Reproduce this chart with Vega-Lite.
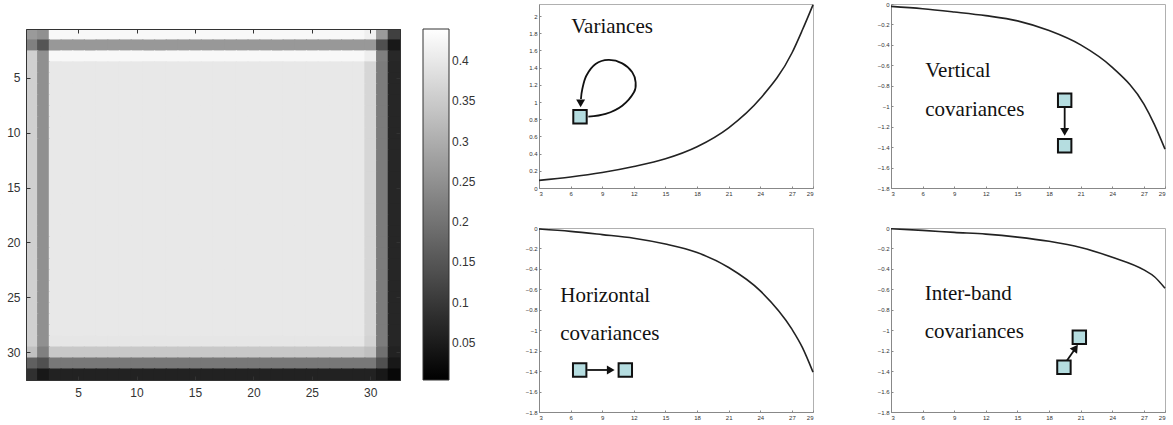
{
  "$schema": "https://vega.github.io/schema/vega-lite/v6.json",
  "padding": {"left": 6, "top": 0, "right": 0, "bottom": 0},
  "background": "white",
  "config": {
    "font": "Liberation Sans",
    "view": {"stroke": "#b0b0b0"},
    "axis": {"grid": false, "labelFont": "Liberation Sans"},
    "legend": {"labelFont": "Liberation Sans"}
  },
  "datasets": {
    "grid": [
      {"r":1,"c":[1,2,3,4,5,6,7,8,9,10,11,12,13,14,15,16,17,18,19,20,21,22,23,24,25,26,27,28,29,30,31,32],"v":[0.267,0.25,0.428,0.428,0.428,0.428,0.428,0.428,0.428,0.428,0.428,0.428,0.428,0.428,0.428,0.428,0.428,0.428,0.428,0.428,0.428,0.428,0.428,0.428,0.428,0.428,0.428,0.428,0.428,0.414,0.267,0.113]},
      {"r":2,"c":[1,2,3,4,5,6,7,8,9,10,11,12,13,14,15,16,17,18,19,20,21,22,23,24,25,26,27,28,29,30,31,32],"v":[0.223,0.149,0.264,0.264,0.264,0.264,0.264,0.264,0.264,0.264,0.264,0.264,0.264,0.264,0.264,0.264,0.264,0.264,0.264,0.264,0.264,0.264,0.264,0.264,0.264,0.264,0.264,0.264,0.264,0.264,0.141,0.045]},
      {"r":3,"c":[1,2,3,4,5,6,7,8,9,10,11,12,13,14,15,16,17,18,19,20,21,22,23,24,25,26,27,28,29,30,31,32],"v":[0.36,0.25,0.428,0.428,0.428,0.428,0.428,0.428,0.428,0.428,0.428,0.428,0.428,0.428,0.428,0.428,0.428,0.428,0.428,0.428,0.428,0.428,0.428,0.428,0.428,0.428,0.428,0.428,0.428,0.411,0.223,0.072]},
      {"r":4,"c":[1,2,3,4,5,6,7,8,9,10,11,12,13,14,15,16,17,18,19,20,21,22,23,24,25,26,27,28,29,30,31,32],"v":[0.36,0.25,0.401,0.401,0.401,0.401,0.401,0.401,0.401,0.401,0.401,0.401,0.401,0.401,0.401,0.401,0.401,0.401,0.401,0.401,0.401,0.401,0.401,0.401,0.401,0.401,0.401,0.401,0.401,0.37,0.216,0.069]},
      {"r":5,"c":[1,2,3,4,5,6,7,8,9,10,11,12,13,14,15,16,17,18,19,20,21,22,23,24,25,26,27,28,29,30,31,32],"v":[0.36,0.25,0.401,0.401,0.401,0.401,0.401,0.401,0.401,0.401,0.401,0.401,0.401,0.401,0.401,0.401,0.401,0.401,0.401,0.401,0.401,0.401,0.401,0.401,0.401,0.401,0.401,0.401,0.401,0.37,0.216,0.069]},
      {"r":6,"c":[1,2,3,4,5,6,7,8,9,10,11,12,13,14,15,16,17,18,19,20,21,22,23,24,25,26,27,28,29,30,31,32],"v":[0.36,0.25,0.401,0.401,0.401,0.401,0.401,0.401,0.401,0.401,0.401,0.401,0.401,0.401,0.401,0.401,0.401,0.401,0.401,0.401,0.401,0.401,0.401,0.401,0.401,0.401,0.401,0.401,0.401,0.37,0.216,0.069]},
      {"r":7,"c":[1,2,3,4,5,6,7,8,9,10,11,12,13,14,15,16,17,18,19,20,21,22,23,24,25,26,27,28,29,30,31,32],"v":[0.36,0.25,0.401,0.401,0.401,0.401,0.401,0.401,0.401,0.401,0.401,0.401,0.401,0.401,0.401,0.401,0.401,0.401,0.401,0.401,0.401,0.401,0.401,0.401,0.401,0.401,0.401,0.401,0.401,0.37,0.216,0.069]},
      {"r":8,"c":[1,2,3,4,5,6,7,8,9,10,11,12,13,14,15,16,17,18,19,20,21,22,23,24,25,26,27,28,29,30,31,32],"v":[0.36,0.25,0.401,0.401,0.401,0.401,0.401,0.401,0.401,0.401,0.401,0.401,0.401,0.401,0.401,0.401,0.401,0.401,0.401,0.401,0.401,0.401,0.401,0.401,0.401,0.401,0.401,0.401,0.401,0.37,0.216,0.069]},
      {"r":9,"c":[1,2,3,4,5,6,7,8,9,10,11,12,13,14,15,16,17,18,19,20,21,22,23,24,25,26,27,28,29,30,31,32],"v":[0.36,0.25,0.401,0.401,0.401,0.401,0.401,0.401,0.401,0.401,0.401,0.401,0.401,0.401,0.401,0.401,0.401,0.401,0.401,0.401,0.401,0.401,0.401,0.401,0.401,0.401,0.401,0.401,0.401,0.37,0.216,0.069]},
      {"r":10,"c":[1,2,3,4,5,6,7,8,9,10,11,12,13,14,15,16,17,18,19,20,21,22,23,24,25,26,27,28,29,30,31,32],"v":[0.36,0.25,0.401,0.401,0.401,0.401,0.401,0.401,0.401,0.401,0.401,0.401,0.401,0.401,0.401,0.401,0.401,0.401,0.401,0.401,0.401,0.401,0.401,0.401,0.401,0.401,0.401,0.401,0.401,0.37,0.216,0.069]},
      {"r":11,"c":[1,2,3,4,5,6,7,8,9,10,11,12,13,14,15,16,17,18,19,20,21,22,23,24,25,26,27,28,29,30,31,32],"v":[0.36,0.25,0.401,0.401,0.401,0.401,0.401,0.401,0.401,0.401,0.401,0.401,0.401,0.401,0.401,0.401,0.401,0.401,0.401,0.401,0.401,0.401,0.401,0.401,0.401,0.401,0.401,0.401,0.401,0.37,0.216,0.069]},
      {"r":12,"c":[1,2,3,4,5,6,7,8,9,10,11,12,13,14,15,16,17,18,19,20,21,22,23,24,25,26,27,28,29,30,31,32],"v":[0.36,0.25,0.401,0.401,0.401,0.401,0.401,0.401,0.401,0.401,0.401,0.401,0.401,0.401,0.401,0.401,0.401,0.401,0.401,0.401,0.401,0.401,0.401,0.401,0.401,0.401,0.401,0.401,0.401,0.37,0.216,0.069]},
      {"r":13,"c":[1,2,3,4,5,6,7,8,9,10,11,12,13,14,15,16,17,18,19,20,21,22,23,24,25,26,27,28,29,30,31,32],"v":[0.36,0.25,0.401,0.401,0.401,0.401,0.401,0.401,0.401,0.401,0.401,0.401,0.401,0.401,0.401,0.401,0.401,0.401,0.401,0.401,0.401,0.401,0.401,0.401,0.401,0.401,0.401,0.401,0.401,0.37,0.216,0.069]},
      {"r":14,"c":[1,2,3,4,5,6,7,8,9,10,11,12,13,14,15,16,17,18,19,20,21,22,23,24,25,26,27,28,29,30,31,32],"v":[0.36,0.25,0.401,0.401,0.401,0.401,0.401,0.401,0.401,0.401,0.401,0.401,0.401,0.401,0.401,0.401,0.401,0.401,0.401,0.401,0.401,0.401,0.401,0.401,0.401,0.401,0.401,0.401,0.401,0.37,0.216,0.069]},
      {"r":15,"c":[1,2,3,4,5,6,7,8,9,10,11,12,13,14,15,16,17,18,19,20,21,22,23,24,25,26,27,28,29,30,31,32],"v":[0.36,0.25,0.401,0.401,0.401,0.401,0.401,0.401,0.401,0.401,0.401,0.401,0.401,0.401,0.401,0.401,0.401,0.401,0.401,0.401,0.401,0.401,0.401,0.401,0.401,0.401,0.401,0.401,0.401,0.37,0.216,0.069]},
      {"r":16,"c":[1,2,3,4,5,6,7,8,9,10,11,12,13,14,15,16,17,18,19,20,21,22,23,24,25,26,27,28,29,30,31,32],"v":[0.36,0.25,0.401,0.401,0.401,0.401,0.401,0.401,0.401,0.401,0.401,0.401,0.401,0.401,0.401,0.401,0.401,0.401,0.401,0.401,0.401,0.401,0.401,0.401,0.401,0.401,0.401,0.401,0.401,0.37,0.216,0.069]},
      {"r":17,"c":[1,2,3,4,5,6,7,8,9,10,11,12,13,14,15,16,17,18,19,20,21,22,23,24,25,26,27,28,29,30,31,32],"v":[0.36,0.25,0.401,0.401,0.401,0.401,0.401,0.401,0.401,0.401,0.401,0.401,0.401,0.401,0.401,0.401,0.401,0.401,0.401,0.401,0.401,0.401,0.401,0.401,0.401,0.401,0.401,0.401,0.401,0.37,0.216,0.069]},
      {"r":18,"c":[1,2,3,4,5,6,7,8,9,10,11,12,13,14,15,16,17,18,19,20,21,22,23,24,25,26,27,28,29,30,31,32],"v":[0.36,0.25,0.401,0.401,0.401,0.401,0.401,0.401,0.401,0.401,0.401,0.401,0.401,0.401,0.401,0.401,0.401,0.401,0.401,0.401,0.401,0.401,0.401,0.401,0.401,0.401,0.401,0.401,0.401,0.37,0.216,0.069]},
      {"r":19,"c":[1,2,3,4,5,6,7,8,9,10,11,12,13,14,15,16,17,18,19,20,21,22,23,24,25,26,27,28,29,30,31,32],"v":[0.36,0.25,0.401,0.401,0.401,0.401,0.401,0.401,0.401,0.401,0.401,0.401,0.401,0.401,0.401,0.401,0.401,0.401,0.401,0.401,0.401,0.401,0.401,0.401,0.401,0.401,0.401,0.401,0.401,0.37,0.216,0.069]},
      {"r":20,"c":[1,2,3,4,5,6,7,8,9,10,11,12,13,14,15,16,17,18,19,20,21,22,23,24,25,26,27,28,29,30,31,32],"v":[0.36,0.25,0.401,0.401,0.401,0.401,0.401,0.401,0.401,0.401,0.401,0.401,0.401,0.401,0.401,0.401,0.401,0.401,0.401,0.401,0.401,0.401,0.401,0.401,0.401,0.401,0.401,0.401,0.401,0.37,0.216,0.069]},
      {"r":21,"c":[1,2,3,4,5,6,7,8,9,10,11,12,13,14,15,16,17,18,19,20,21,22,23,24,25,26,27,28,29,30,31,32],"v":[0.36,0.25,0.401,0.401,0.401,0.401,0.401,0.401,0.401,0.401,0.401,0.401,0.401,0.401,0.401,0.401,0.401,0.401,0.401,0.401,0.401,0.401,0.401,0.401,0.401,0.401,0.401,0.401,0.401,0.37,0.216,0.069]},
      {"r":22,"c":[1,2,3,4,5,6,7,8,9,10,11,12,13,14,15,16,17,18,19,20,21,22,23,24,25,26,27,28,29,30,31,32],"v":[0.36,0.25,0.401,0.401,0.401,0.401,0.401,0.401,0.401,0.401,0.401,0.401,0.401,0.401,0.401,0.401,0.401,0.401,0.401,0.401,0.401,0.401,0.401,0.401,0.401,0.401,0.401,0.401,0.401,0.37,0.216,0.069]},
      {"r":23,"c":[1,2,3,4,5,6,7,8,9,10,11,12,13,14,15,16,17,18,19,20,21,22,23,24,25,26,27,28,29,30,31,32],"v":[0.36,0.25,0.401,0.401,0.401,0.401,0.401,0.401,0.401,0.401,0.401,0.401,0.401,0.401,0.401,0.401,0.401,0.401,0.401,0.401,0.401,0.401,0.401,0.401,0.401,0.401,0.401,0.401,0.401,0.37,0.216,0.069]},
      {"r":24,"c":[1,2,3,4,5,6,7,8,9,10,11,12,13,14,15,16,17,18,19,20,21,22,23,24,25,26,27,28,29,30,31,32],"v":[0.36,0.25,0.401,0.401,0.401,0.401,0.401,0.401,0.401,0.401,0.401,0.401,0.401,0.401,0.401,0.401,0.401,0.401,0.401,0.401,0.401,0.401,0.401,0.401,0.401,0.401,0.401,0.401,0.401,0.37,0.216,0.069]},
      {"r":25,"c":[1,2,3,4,5,6,7,8,9,10,11,12,13,14,15,16,17,18,19,20,21,22,23,24,25,26,27,28,29,30,31,32],"v":[0.36,0.25,0.401,0.401,0.401,0.401,0.401,0.401,0.401,0.401,0.401,0.401,0.401,0.401,0.401,0.401,0.401,0.401,0.401,0.401,0.401,0.401,0.401,0.401,0.401,0.401,0.401,0.401,0.401,0.37,0.216,0.069]},
      {"r":26,"c":[1,2,3,4,5,6,7,8,9,10,11,12,13,14,15,16,17,18,19,20,21,22,23,24,25,26,27,28,29,30,31,32],"v":[0.36,0.25,0.401,0.401,0.401,0.401,0.401,0.401,0.401,0.401,0.401,0.401,0.401,0.401,0.401,0.401,0.401,0.401,0.401,0.401,0.401,0.401,0.401,0.401,0.401,0.401,0.401,0.401,0.401,0.37,0.216,0.069]},
      {"r":27,"c":[1,2,3,4,5,6,7,8,9,10,11,12,13,14,15,16,17,18,19,20,21,22,23,24,25,26,27,28,29,30,31,32],"v":[0.36,0.25,0.401,0.401,0.401,0.401,0.401,0.401,0.401,0.401,0.401,0.401,0.401,0.401,0.401,0.401,0.401,0.401,0.401,0.401,0.401,0.401,0.401,0.401,0.401,0.401,0.401,0.401,0.401,0.37,0.216,0.069]},
      {"r":28,"c":[1,2,3,4,5,6,7,8,9,10,11,12,13,14,15,16,17,18,19,20,21,22,23,24,25,26,27,28,29,30,31,32],"v":[0.36,0.25,0.401,0.401,0.401,0.401,0.401,0.401,0.401,0.401,0.401,0.401,0.401,0.401,0.401,0.401,0.401,0.401,0.401,0.401,0.401,0.401,0.401,0.401,0.401,0.401,0.401,0.401,0.401,0.37,0.216,0.069]},
      {"r":29,"c":[1,2,3,4,5,6,7,8,9,10,11,12,13,14,15,16,17,18,19,20,21,22,23,24,25,26,27,28,29,30,31,32],"v":[0.36,0.25,0.398,0.398,0.398,0.398,0.398,0.398,0.398,0.398,0.398,0.398,0.398,0.398,0.398,0.398,0.398,0.398,0.398,0.398,0.398,0.398,0.398,0.398,0.398,0.398,0.398,0.398,0.398,0.365,0.216,0.069]},
      {"r":30,"c":[1,2,3,4,5,6,7,8,9,10,11,12,13,14,15,16,17,18,19,20,21,22,23,24,25,26,27,28,29,30,31,32],"v":[0.332,0.223,0.346,0.346,0.346,0.346,0.346,0.346,0.346,0.346,0.346,0.346,0.346,0.346,0.346,0.346,0.346,0.346,0.346,0.346,0.346,0.346,0.346,0.346,0.346,0.346,0.346,0.346,0.346,0.332,0.196,0.062]},
      {"r":31,"c":[1,2,3,4,5,6,7,8,9,10,11,12,13,14,15,16,17,18,19,20,21,22,23,24,25,26,27,28,29,30,31,32],"v":[0.168,0.141,0.209,0.209,0.209,0.209,0.209,0.209,0.209,0.209,0.209,0.209,0.209,0.209,0.209,0.209,0.209,0.209,0.209,0.209,0.209,0.209,0.209,0.209,0.209,0.209,0.209,0.209,0.209,0.209,0.141,0.045]},
      {"r":32,"c":[1,2,3,4,5,6,7,8,9,10,11,12,13,14,15,16,17,18,19,20,21,22,23,24,25,26,27,28,29,30,31,32],"v":[0.086,0.045,0.062,0.062,0.062,0.062,0.062,0.062,0.062,0.062,0.062,0.062,0.062,0.062,0.062,0.062,0.062,0.062,0.062,0.062,0.062,0.062,0.062,0.062,0.062,0.062,0.062,0.062,0.062,0.062,0.045,0.018]}
    ],
    "curves": [
      {"p":"var","x":3,"y":0.089},{"p":"var","x":6,"y":0.128},{"p":"var","x":9,"y":0.18},{"p":"var","x":12,"y":0.25},{"p":"var","x":15,"y":0.34},{"p":"var","x":18,"y":0.48},{"p":"var","x":21,"y":0.70},{"p":"var","x":24,"y":1.04},{"p":"var","x":27,"y":1.57},{"p":"var","x":28,"y":1.84},{"p":"var","x":29,"y":2.13},
      {"p":"vcov","x":3,"y":-0.023},{"p":"vcov","x":6,"y":-0.046},{"p":"vcov","x":9,"y":-0.078},{"p":"vcov","x":12,"y":-0.114},{"p":"vcov","x":15,"y":-0.165},{"p":"vcov","x":18,"y":-0.26},{"p":"vcov","x":21,"y":-0.40},{"p":"vcov","x":24,"y":-0.62},{"p":"vcov","x":27,"y":-0.98},{"p":"vcov","x":28,"y":-1.18},{"p":"vcov","x":29,"y":-1.42},
      {"p":"hcov","x":3,"y":-0.01},{"p":"hcov","x":6,"y":-0.033},{"p":"hcov","x":9,"y":-0.065},{"p":"hcov","x":12,"y":-0.10},{"p":"hcov","x":15,"y":-0.157},{"p":"hcov","x":18,"y":-0.24},{"p":"hcov","x":21,"y":-0.386},{"p":"hcov","x":24,"y":-0.615},{"p":"hcov","x":27,"y":-0.99},{"p":"hcov","x":28,"y":-1.17},{"p":"hcov","x":29,"y":-1.41},
      {"p":"icov","x":3,"y":-0.007},{"p":"icov","x":6,"y":-0.023},{"p":"icov","x":9,"y":-0.043},{"p":"icov","x":12,"y":-0.06},{"p":"icov","x":15,"y":-0.089},{"p":"icov","x":18,"y":-0.13},{"p":"icov","x":21,"y":-0.19},{"p":"icov","x":24,"y":-0.286},{"p":"icov","x":27,"y":-0.41},{"p":"icov","x":28,"y":-0.477},{"p":"icov","x":29,"y":-0.59}
    ],
    "labels": [
      {"p":"var","x":6.06,"y":1.80,"t":"Variances"},
      {"p":"vcov","x":6.25,"y":-0.714,"t":"Vertical"},
      {"p":"vcov","x":6.25,"y":-1.099,"t":"covariances"},
      {"p":"hcov","x":5.02,"y":-0.727,"t":"Horizontal"},
      {"p":"hcov","x":5.02,"y":-1.096,"t":"covariances"},
      {"p":"icov","x":6.20,"y":-0.701,"t":"Inter-band"},
      {"p":"icov","x":6.20,"y":-1.076,"t":"covariances"}
    ],
    "boxes": [
      {"p":"var","x":6.89,"y":0.829},
      {"p":"vcov","x":19.48,"y":-0.942},{"p":"vcov","x":19.48,"y":-1.386},
      {"p":"hcov","x":6.86,"y":-1.389},{"p":"hcov","x":11.19,"y":-1.389},
      {"p":"icov","x":19.41,"y":-1.363},{"p":"icov","x":20.87,"y":-1.069}
    ],
    "arrows": [
      {"p":"var","o":1,"x":7.68,"y":0.829},{"p":"var","o":2,"x":9.32,"y":0.861},{"p":"var","o":3,"x":10.90,"y":0.957},{"p":"var","o":4,"x":12.01,"y":1.113},{"p":"var","o":5,"x":12.17,"y":1.229},{"p":"var","o":6,"x":11.85,"y":1.346},{"p":"var","o":7,"x":10.90,"y":1.450},{"p":"var","o":8,"x":9.58,"y":1.489},{"p":"var","o":9,"x":8.37,"y":1.442},{"p":"var","o":10,"x":7.49,"y":1.306},{"p":"var","o":11,"x":7.11,"y":1.151},{"p":"var","o":12,"x":6.98,"y":1.035},
      {"p":"vcov","o":1,"x":19.48,"y":-1.016},{"p":"vcov","o":2,"x":19.48,"y":-1.22},
      {"p":"hcov","o":1,"x":7.57,"y":-1.389},{"p":"hcov","o":2,"x":9.55,"y":-1.389},
      {"p":"icov","o":1,"x":19.60,"y":-1.311},{"p":"icov","o":2,"x":20.36,"y":-1.199}
    ],
    "heads": [
      {"p":"var","x":6.95,"y":0.985,"s":"triangle-down","a":0},
      {"p":"vcov","x":19.48,"y":-1.25,"s":"triangle-down","a":0},
      {"p":"hcov","x":9.81,"y":-1.389,"s":"triangle-right","a":0},
      {"p":"icov","x":20.52,"y":-1.174,"s":"triangle-up","a":35}
    ],
    "blank": [{"k": 0}]
  },
  "spacing": 47,
  "resolve": {"scale": {"color": "independent"}, "legend": {"color": "independent"}},
  "hconcat": [
    {
      "spacing": 23,
      "resolve": {"scale": {"color": "independent"}, "legend": {"color": "independent"}},
      "vconcat": [
        {
          "width": 374, "height": 1,
          "view": {"stroke": null},
          "data": {"name": "blank"},
          "mark": {"type": "point", "opacity": 0, "size": 0},
          "encoding": {}
        },
        {
          "width": 374,
          "height": 351,
          "view": {"stroke": "#333333"},
          "data": {"name": "grid"},
          "transform": [{"flatten": ["c", "v"]}],
          "resolve": {"axis": {"x": "independent", "y": "independent"}},
          "layer": [
            {
              "mark": {"type": "rect", "width": {"band": 1.1}, "height": {"band": 1.1}, "clip": true},
              "encoding": {
                "x": {"field": "c", "type": "ordinal", "scale": {"paddingInner": 0, "paddingOuter": 0},
                      "axis": {"title": null, "orient": "bottom", "values": [5,10,15,20,25,30], "labelAngle": 0, "labelFontSize": 12, "labelColor": "#333333", "tickColor": "#333333", "domainColor": "#333333", "tickSize": -4, "labelPadding": 11}},
                "y": {"field": "r", "type": "ordinal", "scale": {"paddingInner": 0, "paddingOuter": 0},
                      "axis": {"title": null, "orient": "left", "values": [5,10,15,20,25,30], "labelFontSize": 12, "labelColor": "#333333", "tickColor": "#333333", "domainColor": "#333333", "tickSize": -4, "labelPadding": 10}},
                "color": {"field": "v", "type": "quantitative",
                          "scale": {"domain": [0.004, 0.44], "range": ["#000000", "#ffffff"], "interpolate": "rgb"},
                          "legend": {"type": "gradient", "title": null, "orient": "right", "offset": 22, "direction": "vertical", "gradientLength": 351, "gradientThickness": 26, "gradientStrokeColor": "#333333", "gradientStrokeWidth": 1, "values": [0.05,0.1,0.15,0.2,0.25,0.3,0.35,0.4], "labelExpr": "'' + datum.value", "labelFontSize": 12, "labelColor": "#333333", "labelOffset": 3, "labelOverlap": false}}
              }
            },
            {
              "mark": {"type": "rect", "opacity": 0},
              "encoding": {
                "x": {"field": "c", "type": "ordinal",
                      "axis": {"title": null, "orient": "top", "values": [5,10,15,20,25,30], "labels": false, "tickColor": "#333333", "domainColor": "#333333", "tickSize": -4, "minExtent": 0, "maxExtent": 0}},
                "y": {"field": "r", "type": "ordinal",
                      "axis": {"title": null, "orient": "right", "values": [5,10,15,20,25,30], "labels": false, "tickColor": "#333333", "domainColor": "#333333", "tickSize": -4, "minExtent": 0, "maxExtent": 0}}
              }
            }
          ]
        }
      ]
    },
    {
      "spacing": 27,
      "vconcat": [
        {
          "spacing": 59,
          "hconcat": [
            {
              "width": 274, "height": 184,
              "encoding": {
                "x": {"field": "x", "type": "quantitative", "scale": {"domain": [3, 29], "nice": false, "zero": false},
                      "axis": {"title": null, "values": [3,6,9,12,15,18,21,24,27,29], "labelFontSize": 6, "labelColor": "#333", "tickSize": -2, "labelPadding": 4, "domainColor": "#888", "tickColor": "#888"}},
                "y": {"field": "y", "type": "quantitative", "scale": {"domain": [0, 2.14], "nice": false, "zero": false},
                      "axis": {"title": null, "values": [0,0.2,0.4,0.6,0.8,1,1.2,1.4,1.6,1.8,2], "format": "~g", "labelFontSize": 6, "labelColor": "#333", "tickSize": -2, "labelPadding": 4, "domainColor": "#888", "tickColor": "#888"}}
              },
              "layer": [
                {"data": {"name": "curves"}, "transform": [{"filter": "datum.p == 'var'"}], "mark": {"type": "line", "color": "#222", "strokeWidth": 1.6, "interpolate": "monotone"}},
                {"data": {"name": "labels"}, "transform": [{"filter": "datum.p == 'var'"}], "mark": {"type": "text", "font": "Liberation Serif", "fontSize": 21, "align": "left", "baseline": "alphabetic", "color": "#111"}, "encoding": {"text": {"field": "t"}}},
                {"data": {"name": "arrows"}, "transform": [{"filter": "datum.p == 'var'"}], "mark": {"type": "line", "color": "#111", "strokeWidth": 1.8, "interpolate": "cardinal"}, "encoding": {"order": {"field": "o"}}},
                {"data": {"name": "heads"}, "transform": [{"filter": "datum.p == 'var'"}], "mark": {"type": "point", "filled": true, "color": "#111", "opacity": 1, "size": 80}, "encoding": {"shape": {"field": "s", "type": "nominal", "scale": null}, "angle": {"field": "a", "type": "quantitative", "scale": null}}},
                {"data": {"name": "boxes"}, "transform": [{"filter": "datum.p == 'var'"}], "mark": {"type": "square", "size": 180, "fill": "#b5dde0", "stroke": "#111", "strokeWidth": 2, "opacity": 1}}
              ]
            },
            {
              "width": 274, "height": 184,
              "encoding": {
                "x": {"field": "x", "type": "quantitative", "scale": {"domain": [3, 29], "nice": false, "zero": false},
                      "axis": {"title": null, "values": [3,6,9,12,15,18,21,24,27,29], "labelFontSize": 6, "labelColor": "#333", "tickSize": -2, "labelPadding": 4, "domainColor": "#888", "tickColor": "#888"}},
                "y": {"field": "y", "type": "quantitative", "scale": {"domain": [-1.8, 0], "nice": false, "zero": false},
                      "axis": {"title": null, "values": [0,-0.2,-0.4,-0.6,-0.8,-1,-1.2,-1.4,-1.6,-1.8], "format": "~g", "labelFontSize": 6, "labelColor": "#333", "tickSize": -2, "labelPadding": 4, "domainColor": "#888", "tickColor": "#888"}}
              },
              "layer": [
                {"data": {"name": "curves"}, "transform": [{"filter": "datum.p == 'vcov'"}], "mark": {"type": "line", "color": "#222", "strokeWidth": 1.6, "interpolate": "monotone"}},
                {"data": {"name": "labels"}, "transform": [{"filter": "datum.p == 'vcov'"}], "mark": {"type": "text", "font": "Liberation Serif", "fontSize": 21, "align": "left", "baseline": "alphabetic", "color": "#111"}, "encoding": {"text": {"field": "t"}}},
                {"data": {"name": "arrows"}, "transform": [{"filter": "datum.p == 'vcov'"}], "mark": {"type": "line", "color": "#111", "strokeWidth": 1.8}, "encoding": {"order": {"field": "o"}}},
                {"data": {"name": "heads"}, "transform": [{"filter": "datum.p == 'vcov'"}], "mark": {"type": "point", "filled": true, "color": "#111", "opacity": 1, "size": 80}, "encoding": {"shape": {"field": "s", "type": "nominal", "scale": null}, "angle": {"field": "a", "type": "quantitative", "scale": null}}},
                {"data": {"name": "boxes"}, "transform": [{"filter": "datum.p == 'vcov'"}], "mark": {"type": "square", "size": 180, "fill": "#b5dde0", "stroke": "#111", "strokeWidth": 2, "opacity": 1}}
              ]
            }
          ]
        },
        {
          "spacing": 59,
          "hconcat": [
            {
              "width": 274, "height": 184,
              "encoding": {
                "x": {"field": "x", "type": "quantitative", "scale": {"domain": [3, 29], "nice": false, "zero": false},
                      "axis": {"title": null, "values": [3,6,9,12,15,18,21,24,27,29], "labelFontSize": 6, "labelColor": "#333", "tickSize": -2, "labelPadding": 4, "domainColor": "#888", "tickColor": "#888"}},
                "y": {"field": "y", "type": "quantitative", "scale": {"domain": [-1.8, 0], "nice": false, "zero": false},
                      "axis": {"title": null, "values": [0,-0.2,-0.4,-0.6,-0.8,-1,-1.2,-1.4,-1.6,-1.8], "format": "~g", "labelFontSize": 6, "labelColor": "#333", "tickSize": -2, "labelPadding": 4, "domainColor": "#888", "tickColor": "#888"}}
              },
              "layer": [
                {"data": {"name": "curves"}, "transform": [{"filter": "datum.p == 'hcov'"}], "mark": {"type": "line", "color": "#222", "strokeWidth": 1.6, "interpolate": "monotone"}},
                {"data": {"name": "labels"}, "transform": [{"filter": "datum.p == 'hcov'"}], "mark": {"type": "text", "font": "Liberation Serif", "fontSize": 21, "align": "left", "baseline": "alphabetic", "color": "#111"}, "encoding": {"text": {"field": "t"}}},
                {"data": {"name": "arrows"}, "transform": [{"filter": "datum.p == 'hcov'"}], "mark": {"type": "line", "color": "#111", "strokeWidth": 1.8}, "encoding": {"order": {"field": "o"}}},
                {"data": {"name": "heads"}, "transform": [{"filter": "datum.p == 'hcov'"}], "mark": {"type": "point", "filled": true, "color": "#111", "opacity": 1, "size": 80}, "encoding": {"shape": {"field": "s", "type": "nominal", "scale": null}, "angle": {"field": "a", "type": "quantitative", "scale": null}}},
                {"data": {"name": "boxes"}, "transform": [{"filter": "datum.p == 'hcov'"}], "mark": {"type": "square", "size": 180, "fill": "#b5dde0", "stroke": "#111", "strokeWidth": 2, "opacity": 1}}
              ]
            },
            {
              "width": 274, "height": 184,
              "encoding": {
                "x": {"field": "x", "type": "quantitative", "scale": {"domain": [3, 29], "nice": false, "zero": false},
                      "axis": {"title": null, "values": [3,6,9,12,15,18,21,24,27,29], "labelFontSize": 6, "labelColor": "#333", "tickSize": -2, "labelPadding": 4, "domainColor": "#888", "tickColor": "#888"}},
                "y": {"field": "y", "type": "quantitative", "scale": {"domain": [-1.8, 0], "nice": false, "zero": false},
                      "axis": {"title": null, "values": [0,-0.2,-0.4,-0.6,-0.8,-1,-1.2,-1.4,-1.6,-1.8], "format": "~g", "labelFontSize": 6, "labelColor": "#333", "tickSize": -2, "labelPadding": 4, "domainColor": "#888", "tickColor": "#888"}}
              },
              "layer": [
                {"data": {"name": "curves"}, "transform": [{"filter": "datum.p == 'icov'"}], "mark": {"type": "line", "color": "#222", "strokeWidth": 1.6, "interpolate": "monotone"}},
                {"data": {"name": "labels"}, "transform": [{"filter": "datum.p == 'icov'"}], "mark": {"type": "text", "font": "Liberation Serif", "fontSize": 21, "align": "left", "baseline": "alphabetic", "color": "#111"}, "encoding": {"text": {"field": "t"}}},
                {"data": {"name": "arrows"}, "transform": [{"filter": "datum.p == 'icov'"}], "mark": {"type": "line", "color": "#111", "strokeWidth": 1.8}, "encoding": {"order": {"field": "o"}}},
                {"data": {"name": "heads"}, "transform": [{"filter": "datum.p == 'icov'"}], "mark": {"type": "point", "filled": true, "color": "#111", "opacity": 1, "size": 80}, "encoding": {"shape": {"field": "s", "type": "nominal", "scale": null}, "angle": {"field": "a", "type": "quantitative", "scale": null}}},
                {"data": {"name": "boxes"}, "transform": [{"filter": "datum.p == 'icov'"}], "mark": {"type": "square", "size": 180, "fill": "#b5dde0", "stroke": "#111", "strokeWidth": 2, "opacity": 1}}
              ]
            }
          ]
        }
      ]
    }
  ]
}
